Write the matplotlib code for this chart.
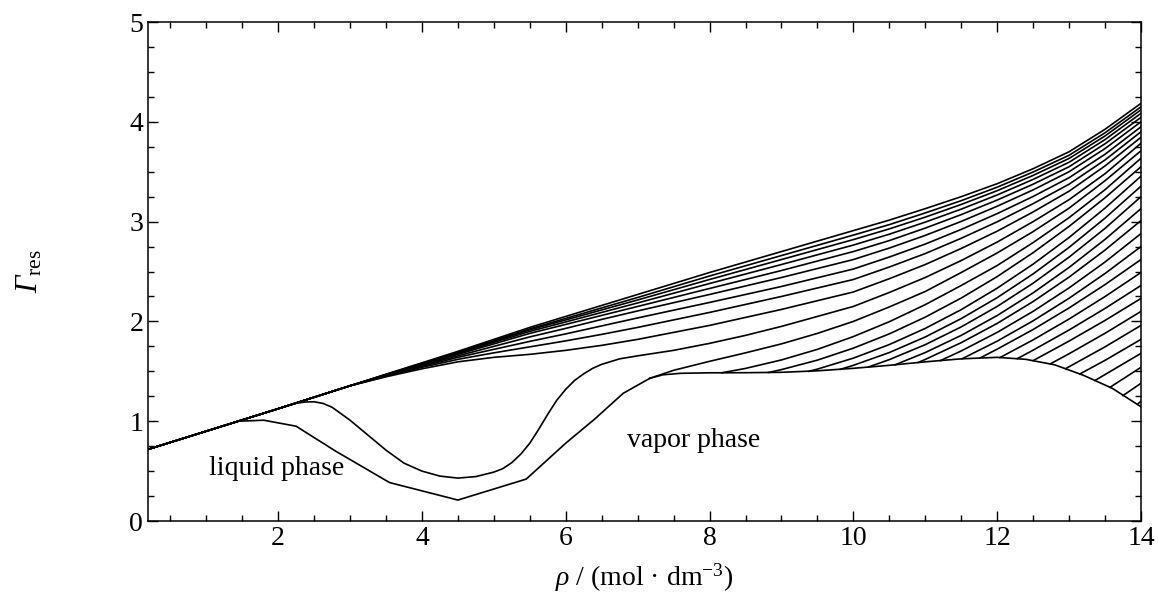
import numpy as np
import matplotlib.pyplot as plt

plt.rcParams['font.family'] = ['Liberation Serif', 'DejaVu Serif']
plt.rcParams['mathtext.fontset'] = 'custom'
plt.rcParams['mathtext.rm'] = 'Liberation Serif'
plt.rcParams['mathtext.it'] = 'Liberation Serif:italic'
plt.rcParams['mathtext.sf'] = 'Liberation Serif:italic'  # used for the italic capital Gamma
plt.rcParams['mathtext.fallback'] = 'stix'

# isotherms that leave the common low-density branch (top to bottom)
rho_a = [0.2, 1, 2, 3, 3.5, 4, 4.5, 5, 5.5, 6, 6.5, 7, 8, 9, 10, 10.5, 11, 11.5, 12, 12.5, 13, 13.5, 14]
gamma_a = [
    [0.72, 0.90, 1.125, 1.355, 1.47, 1.585, 1.70, 1.82, 1.94, 2.05, 2.16, 2.27, 2.49, 2.70, 2.91, 3.015, 3.13, 3.25, 3.38, 3.53, 3.70, 3.925, 4.185],
    [0.72, 0.90, 1.125, 1.355, 1.47, 1.58, 1.692, 1.808, 1.925, 2.03, 2.135, 2.24, 2.455, 2.66, 2.865, 2.97, 3.087, 3.21, 3.345, 3.497, 3.665, 3.89, 4.15],
    [0.72, 0.90, 1.125, 1.355, 1.465, 1.575, 1.685, 1.80, 1.915, 2.015, 2.115, 2.215, 2.42, 2.62, 2.82, 2.927, 3.045, 3.172, 3.31, 3.463, 3.633, 3.858, 4.12],
    [0.72, 0.90, 1.125, 1.355, 1.463, 1.57, 1.68, 1.79, 1.90, 1.995, 2.09, 2.185, 2.38, 2.57, 2.765, 2.874, 2.995, 3.125, 3.267, 3.423, 3.595, 3.822, 4.085],
    [0.72, 0.90, 1.125, 1.355, 1.46, 1.565, 1.67, 1.775, 1.88, 1.97, 2.06, 2.15, 2.33, 2.51, 2.70, 2.81, 2.935, 3.07, 3.216, 3.375, 3.55, 3.78, 4.045],
    [0.72, 0.90, 1.125, 1.355, 1.458, 1.56, 1.655, 1.75, 1.845, 1.93, 2.02, 2.105, 2.27, 2.44, 2.62, 2.735, 2.862, 3.002, 3.154, 3.318, 3.50, 3.732, 4.00],
    [0.72, 0.90, 1.125, 1.355, 1.455, 1.55, 1.64, 1.72, 1.80, 1.875, 1.955, 2.035, 2.19, 2.35, 2.525, 2.645, 2.775, 2.922, 3.08, 3.252, 3.44, 3.675, 3.95],
    [0.72, 0.90, 1.125, 1.355, 1.45, 1.54, 1.62, 1.685, 1.745, 1.805, 1.87, 1.94, 2.09, 2.25, 2.42, 2.545, 2.68, 2.833, 2.998, 3.18, 3.375, 3.618, 3.90],
    [0.72, 0.90, 1.125, 1.355, 1.445, 1.525, 1.595, 1.64, 1.67, 1.71, 1.76, 1.82, 1.96, 2.12, 2.295, 2.428, 2.57, 2.731, 2.904, 3.097, 3.305, 3.558, 3.845],
]

# S-shaped isotherm
rho_s = [0.2, 1, 2, 2.25, 2.375, 2.5, 2.625, 2.75, 3, 3.25, 3.5, 3.75, 4, 4.25, 4.5, 4.75, 5, 5.125, 5.25, 5.375,
         5.5, 5.625, 5.75, 5.875, 6, 6.125, 6.25, 6.375, 6.5, 6.75, 7, 7.5, 8, 8.5, 9, 9.5, 10, 10.5, 11, 11.5,
         12, 12.5, 13, 13.5, 14]
gamma_s = [0.72, 0.90, 1.125, 1.18, 1.192, 1.195, 1.178, 1.14, 1.01, 0.86, 0.71, 0.58, 0.50, 0.45, 0.43, 0.445, 0.49, 0.525, 0.585, 0.67,
           0.78, 0.92, 1.07, 1.21, 1.32, 1.41, 1.475, 1.53, 1.57, 1.625, 1.655, 1.71, 1.78, 1.86, 1.95, 2.05, 2.15, 2.29, 2.44, 2.61,
           2.795, 3.00, 3.22, 3.48, 3.785]

# lowest isotherm (coarse polyline) and its continuation
rho_p = [0.2, 1, 1.45, 1.8, 2.25, 2.8, 3.55, 4.5, 5.45, 6.0, 6.4, 6.8, 7.17]
gamma_p = [0.72, 0.90, 1.0, 1.01, 0.95, 0.70, 0.385, 0.21, 0.42, 0.78, 1.02, 1.28, 1.43]
rho_pb = [7.17, 7.5, 8, 8.5, 9, 9.5, 10, 10.5, 11, 11.5, 12, 12.5, 13, 13.5, 14]
gamma_pb = [1.43, 1.51, 1.60, 1.685, 1.775, 1.88, 2.00, 2.145, 2.30, 2.49, 2.686, 2.90, 3.135, 3.41, 3.71]

# boundary curve
rho_env = [7.17, 7.35, 7.6, 8, 8.5, 9, 9.5, 10, 10.5, 11, 11.5, 12, 12.4, 12.8, 13.2, 13.6, 14]
gamma_env = [1.43, 1.465, 1.48, 1.485, 1.486, 1.49, 1.505, 1.53, 1.56, 1.595, 1.625, 1.64, 1.62, 1.565, 1.46, 1.33, 1.145]

# isotherms starting on the boundary curve
rho_b = [
    [8.17, 8.5, 9, 9.5, 10, 10.5, 11, 11.5, 12, 12.5, 13, 13.5, 14],
    [8.82, 9, 9.5, 10, 10.5, 11, 11.5, 12, 12.5, 13, 13.5, 14],
    [9.38, 9.5, 10, 10.5, 11, 11.5, 12, 12.5, 13, 13.5, 14],
    [9.82, 10, 10.5, 11, 11.5, 12, 12.5, 13, 13.5, 14],
    [10.21, 10.5, 11, 11.5, 12, 12.5, 13, 13.5, 14],
    [10.58, 11, 11.5, 12, 12.5, 13, 13.5, 14],
    [10.90, 11, 11.5, 12, 12.5, 13, 13.5, 14],
    [11.21, 11.5, 12, 12.5, 13, 13.5, 14],
    [11.51, 12, 12.5, 13, 13.5, 14],
    [11.76, 12, 12.5, 13, 13.5, 14],
    [12.04, 12.5, 13, 13.5, 14],
    [12.28, 12.5, 13, 13.5, 14],
    [12.50, 13, 13.5, 14],
    [12.74, 13, 13.5, 14],
    [12.95, 13.5, 14],
    [13.15, 13.5, 14],
    [13.36, 14],
    [13.57, 14],
    [13.75, 14],
    [13.95, 14],
]
gamma_b = [
    [1.485, 1.529, 1.614, 1.72, 1.848, 1.997, 2.168, 2.36, 2.56, 2.79, 3.04, 3.32, 3.635],
    [1.488, 1.517, 1.612, 1.732, 1.875, 2.043, 2.234, 2.449, 2.689, 2.952, 3.239, 3.55],
    [1.50, 1.522, 1.632, 1.768, 1.93, 2.118, 2.333, 2.574, 2.841, 3.135, 3.455],
    [1.52, 1.56, 1.688, 1.844, 2.028, 2.238, 2.476, 2.742, 3.035, 3.355],
    [1.543, 1.617, 1.767, 1.945, 2.15, 2.383, 2.644, 2.932, 3.25],
    [1.565, 1.688, 1.86, 2.059, 2.286, 2.541, 2.822, 3.13],
    [1.588, 1.619, 1.787, 1.98, 2.199, 2.444, 2.715, 3.01],
    [1.607, 1.704, 1.89, 2.101, 2.336, 2.595, 2.88],
    [1.625, 1.802, 2.006, 2.232, 2.48, 2.75],
    [1.633, 1.722, 1.919, 2.135, 2.369, 2.62],
    [1.638, 1.815, 2.024, 2.249, 2.49],
    [1.627, 1.712, 1.914, 2.13, 2.36],
    [1.607, 1.803, 2.01, 2.23],
    [1.575, 1.676, 1.881, 2.10],
    [1.526, 1.745, 1.96],
    [1.473, 1.61, 1.82],
    [1.408, 1.68],
    [1.34, 1.54],
    [1.257, 1.38],
    [1.17, 1.20],
]

fig = plt.figure(figsize=(11.58, 5.97), dpi=100)
ax = fig.add_axes([0.1278, 0.1273, 0.8575, 0.8358])

lw = 1.2
for g in gamma_a:
    ax.plot(rho_a, g, color='black', lw=lw)
ax.plot(rho_s, gamma_s, color='black', lw=lw)
ax.plot(rho_p, gamma_p, color='black', lw=lw)
ax.plot(rho_pb, gamma_pb, color='black', lw=lw)
ax.plot(rho_env, gamma_env, color='black', lw=lw)
for xb, yb in zip(rho_b, gamma_b):
    ax.plot(xb, yb, color='black', lw=lw)

ax.text(1.98, 0.53, 'liquid phase', fontsize=20, ha='center', va='center')
ax.text(7.78, 0.81, 'vapor phase', fontsize=20, ha='center', va='center')

ax.set_xlim(0.19, 14)
ax.set_ylim(0, 5)
ax.set_xticks([2, 4, 6, 8, 10, 12, 14])
ax.set_yticks([0, 1, 2, 3, 4, 5])
ax.set_xticks(np.arange(0.5, 14.01, 0.5), minor=True)
ax.set_yticks(np.arange(0, 5.01, 0.25), minor=True)
ax.tick_params(which='both', direction='in', top=True, right=True, labelsize=20, width=1.0)
ax.tick_params(which='major', length=7)
ax.tick_params(which='minor', length=4)
for s in ax.spines.values():
    s.set_linewidth(1.1)

ax.set_xlabel(r'$\rho$ / (mol · dm$^{-3}$)', fontsize=20, labelpad=8)
ax.set_ylabel(r'$\mathsf{\Gamma}_{\mathrm{res}}$', fontsize=22)
ax.yaxis.set_label_coords(-0.104, 0.5)

fig.savefig('out.png', dpi=100)
